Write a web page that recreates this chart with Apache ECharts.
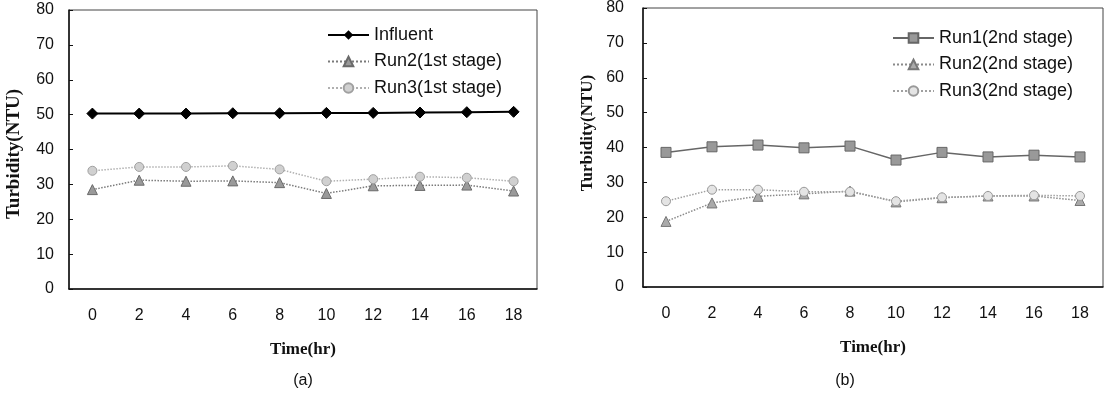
<!DOCTYPE html>
<html>
<head>
<meta charset="utf-8">
<script src="https://cdn.jsdelivr.net/npm/echarts@6/dist/echarts.min.js"></script>
<style>
html,body{margin:0;padding:0;background:#fff;}
#chart{width:1111px;height:395px;}
</style>
</head>
<body>
<div id="chart"></div>
<script>
var times = ['0','2','4','6','8','10','12','14','16','18'];
var yTicks = [0,10,20,30,40,50,60,70,80];

var influent   = [50.3,50.3,50.3,50.4,50.4,50.5,50.5,50.6,50.7,50.8];
var run2First  = [28.5,31.2,30.9,31.0,30.5,27.4,29.6,29.7,29.8,28.1];
var run3First  = [33.9,35.0,35.0,35.3,34.3,30.9,31.5,32.2,31.9,30.9];

var run1Second = [38.6,40.2,40.7,39.9,40.4,36.4,38.6,37.3,37.8,37.3];
var run2Second = [18.8,24.1,26.0,26.7,27.5,24.4,25.6,26.1,26.1,24.8];
var run3Second = [24.6,27.9,27.9,27.3,27.3,24.6,25.7,26.1,26.3,26.1];

var names = ['Influent','Run2(1st stage)','Run3(1st stage)','Run1(2nd stage)','Run2(2nd stage)','Run3(2nd stage)'];
var panelLabels = ['(a)','(b)'];
var xName = 'Time(hr)';
var yName = 'Turbidity(NTU)';

var chart = echarts.init(document.getElementById('chart'));

function xAxisFor(idx){
  return {
    gridIndex: idx, type:'category', data: times, boundaryGap:true,
    name: xName, nameLocation:'middle', nameGap: 52,
    nameTextStyle:{fontFamily:'Liberation Serif', fontWeight:'bold', fontSize:17, color:'#111'},
    axisLine:{lineStyle:{color:'#111', width:1.5}},
    axisTick:{inside:true, length:5, lineStyle:{color:'#111'}},
    axisLabel:{fontFamily:'Liberation Sans', fontSize:16, color:'#111', margin:19}
  };
}
function yAxisFor(idx, margin){
  return {
    gridIndex: idx, type:'value', min:yTicks[0], max:yTicks[yTicks.length-1], interval:10,
    splitLine:{show:false},
    axisLine:{show:true, lineStyle:{color:'#111', width:1.5}},
    axisTick:{show:true, inside:true, length:4, lineStyle:{color:'#111'}},
    axisLabel:{fontFamily:'Liberation Sans', fontSize:16, color:'#111', margin:margin}
  };
}

var option = {
  animation:false,
  backgroundColor:'#fff',
  grid:[
    {left:69, top:10, width:468, height:279, show:true, borderColor:'#444', borderWidth:1},
    {left:643, top:8, width:460, height:279, show:true, borderColor:'#444', borderWidth:1}
  ],
  xAxis:[xAxisFor(0), xAxisFor(1)],
  yAxis:[yAxisFor(0,15), yAxisFor(1,19)],
  legend:[
    {data:[names[0],names[1],names[2]], orient:'vertical', left:327, top:26, itemWidth:41, itemHeight:12, itemGap:8.5, padding:0,
     textStyle:{fontFamily:'Liberation Sans', fontSize:18, color:'#111'}},
    {data:[names[3],names[4],names[5]], orient:'vertical', left:892, top:29, itemWidth:41, itemHeight:12, itemGap:8.5, padding:0,
     textStyle:{fontFamily:'Liberation Sans', fontSize:18, color:'#111'}}
  ],
  graphic:[
    {type:'text', x:14, y:154, rotation:Math.PI/2, style:{text:yName, fontFamily:'Liberation Serif', fontWeight:'bold', fontSize:19, fill:'#111', align:'center', verticalAlign:'middle'}},
    {type:'text', x:588, y:133, rotation:Math.PI/2, style:{text:yName, fontFamily:'Liberation Serif', fontWeight:'bold', fontSize:17, fill:'#111', align:'center', verticalAlign:'middle'}},
    {type:'text', x:303, y:381, style:{text:panelLabels[0], fontFamily:'Liberation Sans', fontSize:16, fill:'#111', align:'center', verticalAlign:'middle'}},
    {type:'text', x:845, y:381, style:{text:panelLabels[1], fontFamily:'Liberation Sans', fontSize:16, fill:'#111', align:'center', verticalAlign:'middle'}}
  ],
  series:[
    {name:names[0], type:'line', xAxisIndex:0, yAxisIndex:0, data:influent,
     symbol:'diamond', symbolSize:11, color:'#000',
     lineStyle:{color:'#000', width:2}, itemStyle:{color:'#000', borderColor:'#000'}},
    {name:names[1], type:'line', xAxisIndex:0, yAxisIndex:0, data:run2First,
     symbol:'triangle', symbolSize:10, color:'#7a7a7a',
     lineStyle:{color:'#7a7a7a', width:1.5, type:'dotted'}, itemStyle:{color:'#9a9a9a', borderColor:'#6a6a6a', borderWidth:1}},
    {name:names[2], type:'line', xAxisIndex:0, yAxisIndex:0, data:run3First,
     symbol:'circle', symbolSize:9, color:'#b0b0b0',
     lineStyle:{color:'#b0b0b0', width:1.5, type:'dotted'}, itemStyle:{color:'#d0d0d0', borderColor:'#a0a0a0', borderWidth:1}},
    {name:names[3], type:'line', xAxisIndex:1, yAxisIndex:1, data:run1Second,
     symbol:'rect', symbolSize:10, color:'#666',
     lineStyle:{color:'#666', width:1.5}, itemStyle:{color:'#999', borderColor:'#666', borderWidth:1}},
    {name:names[4], type:'line', xAxisIndex:1, yAxisIndex:1, data:run2Second,
     symbol:'triangle', symbolSize:10, color:'#8a8a8a',
     lineStyle:{color:'#8a8a8a', width:1.5, type:'dotted'}, itemStyle:{color:'#aaa', borderColor:'#777', borderWidth:1}},
    {name:names[5], type:'line', xAxisIndex:1, yAxisIndex:1, data:run3Second,
     symbol:'circle', symbolSize:9, color:'#a0a0a0',
     lineStyle:{color:'#a0a0a0', width:1.5, type:'dotted'}, itemStyle:{color:'#e4e4e4', borderColor:'#999', borderWidth:1}}
  ]
};
chart.setOption(option);
</script>
</body>
</html>
